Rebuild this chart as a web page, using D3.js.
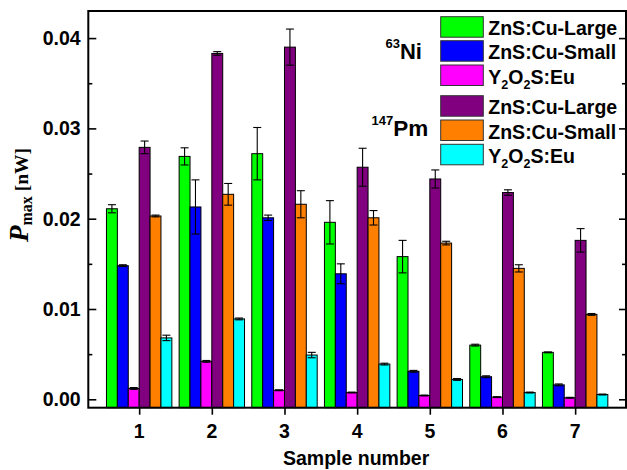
<!DOCTYPE html>
<html>
<head>
<meta charset="utf-8">
<script src="https://cdn.jsdelivr.net/npm/d3@7"></script>
<style>
  html, body { margin: 0; padding: 0; background: #fff; }
  svg { display: block; }
  text { font-family: "Liberation Sans", Arial, sans-serif; font-weight: bold; fill: #000; }
</style>
</head>
<body>
<svg id="chart" width="627" height="470"></svg>
<script>
// Sample numbers on the x axis
const samples = [1, 2, 3, 4, 5, 6, 7];

// Maximum power [nW] per sample, 63Ni source
const niLarge    = [0.0211, 0.0269, 0.0272, 0.0196, 0.0158, 0.0060, 0.0052];
const niLargeErr = [0.00045, 0.00095, 0.0029, 0.0024, 0.0018, 0.0001, 0.00005];
const niSmall    = [0.0148, 0.0213, 0.0201, 0.0139, 0.0031, 0.0025, 0.0016];
const niSmallErr = [0.0001, 0.0030, 0.0003, 0.0011, 0.0001, 0.0001, 0.0001];
const niY2O2S    = [0.0012, 0.0042, 0.0010, 0.00075, 0.00042, 0.00024, 0.00017];
const niY2O2SErr = [0.0001, 0.0001, 0.00005, 0.00005, 0.00005, 0.00005, 0.00005];

// Maximum power [nW] per sample, 147Pm source
const pmLarge    = [0.0279, 0.0383, 0.0390, 0.0257, 0.0244, 0.0229, 0.0176];
const pmLargeErr = [0.0007, 0.0002, 0.0020, 0.0021, 0.0010, 0.0003, 0.0013];
const pmSmall    = [0.0203, 0.0227, 0.0216, 0.0201, 0.0173, 0.0145, 0.0094];
const pmSmallErr = [0.0001, 0.0012, 0.0015, 0.0008, 0.0002, 0.0004, 0.0001];
const pmY2O2S    = [0.0068, 0.0089, 0.0049, 0.0039, 0.0022, 0.00075, 0.00053];
const pmY2O2SErr = [0.0003, 0.0001, 0.0003, 0.0001, 0.0001, 0.00005, 0.00005];

// Tick values
const yMajorTicks = [0, 0.01, 0.02, 0.03, 0.04];
const yMinorTicks = [0.005, 0.015, 0.025, 0.035];
const yTickLabels = ["0.00", "0.01", "0.02", "0.03", "0.04"];

// Series: phosphor label parts (text, subscript flag) and fill colour
const series = [
  { values: niLarge, errors: niLargeErr, color: "#00ff00", label: [["ZnS:Cu-Large", false]] },
  { values: niSmall, errors: niSmallErr, color: "#0000ff", label: [["ZnS:Cu-Small", false]] },
  { values: niY2O2S, errors: niY2O2SErr, color: "#ff00ff", label: [["Y", false], ["2", true], ["O", false], ["2", true], ["S:Eu", false]] },
  { values: pmLarge, errors: pmLargeErr, color: "#800080", label: [["ZnS:Cu-Large", false]] },
  { values: pmSmall, errors: pmSmallErr, color: "#ff8000", label: [["ZnS:Cu-Small", false]] },
  { values: pmY2O2S, errors: pmY2O2SErr, color: "#00ffff", label: [["Y", false], ["2", true], ["O", false], ["2", true], ["S:Eu", false]] }
];

const svg = d3.select("#chart");
const L = 88.3, R = 626, T = 11, B = 407.7;

const x = d3.scaleLinear().domain([0.3, 7.7]).range([L, R]);
const y = d3.scaleLinear().domain([-0.00093, 0.043]).range([B, T]);

const barW = 0.15;
const barPx = x(barW) - x(0);

// Bars
series.forEach((s, k) => {
  const g = svg.append("g");
  g.selectAll("rect").data(samples).join("rect")
    .attr("x", (d) => x(d + (k - 3) * barW))
    .attr("y", (d, i) => y(s.values[i]))
    .attr("width", barPx)
    .attr("height", (d, i) => B - y(s.values[i]))
    .attr("fill", s.color)
    .attr("stroke", "#000")
    .attr("stroke-width", 1);
});

// Error bars
series.forEach((s, k) => {
  const g = svg.append("g").attr("stroke", "#000").attr("stroke-width", 1.1);
  samples.forEach((d, i) => {
    const cx = x(d + (k - 2.5) * barW);
    const top = y(s.values[i] + s.errors[i]);
    const bot = y(s.values[i] - s.errors[i]);
    g.append("line").attr("x1", cx).attr("x2", cx).attr("y1", top).attr("y2", bot);
    g.append("line").attr("x1", cx - 4).attr("x2", cx + 4).attr("y1", top).attr("y2", top);
    g.append("line").attr("x1", cx - 4).attr("x2", cx + 4).attr("y1", bot).attr("y2", bot);
  });
});

// Left axis (ticks pointing inward)
const yAxisL = svg.append("g").attr("transform", `translate(${L},0)`)
  .call(d3.axisRight(y).tickValues(yMajorTicks).tickSize(8).tickFormat(""));
const yAxisLMinor = svg.append("g").attr("transform", `translate(${L},0)`)
  .call(d3.axisRight(y).tickValues(yMinorTicks).tickSize(4).tickFormat(""));
// Right axis (ticks pointing inward)
const yAxisR = svg.append("g").attr("transform", `translate(${R},0)`)
  .call(d3.axisLeft(y).tickValues(yMajorTicks).tickSize(7).tickFormat(""));
const yAxisRMinor = svg.append("g").attr("transform", `translate(${R},0)`)
  .call(d3.axisLeft(y).tickValues(yMinorTicks).tickSize(4).tickFormat(""));
// Bottom axis (ticks pointing outward)
const xAxis = svg.append("g").attr("transform", `translate(0,${B})`)
  .call(d3.axisBottom(x).tickValues(samples).tickSize(7).tickFormat(""));

[yAxisL, yAxisLMinor, yAxisR, yAxisRMinor, xAxis].forEach((a) => {
  a.select(".domain").remove();
  a.selectAll(".tick line").attr("stroke", "#000").attr("stroke-width", 1.6);
});

// Y tick labels
svg.append("g").selectAll("text").data(yMajorTicks).join("text")
  .attr("x", 80.7)
  .attr("y", (d) => y(d) + 7)
  .attr("text-anchor", "end")
  .attr("font-size", 19.5)
  .text((d, i) => yTickLabels[i]);

// X tick labels
svg.append("g").selectAll("text").data(samples).join("text")
  .attr("x", (d) => x(d))
  .attr("y", 438)
  .attr("text-anchor", "middle")
  .attr("font-size", 19.5)
  .text((d) => d);

// Frame
svg.append("rect")
  .attr("x", L).attr("y", T).attr("width", R - L).attr("height", B - T)
  .attr("fill", "none").attr("stroke", "#000").attr("stroke-width", 2);

// Axis titles
svg.append("text")
  .attr("x", (L + R) / 2 - 1)
  .attr("y", 465)
  .attr("text-anchor", "middle")
  .attr("font-size", 19.5)
  .text("Sample number");

const yTitle = svg.append("text")
  .attr("transform", "translate(28,195) rotate(-90)")
  .attr("text-anchor", "middle")
  .style("font-family", "'Liberation Serif', 'Times New Roman', serif");
yTitle.append("tspan").attr("font-size", 27).attr("font-style", "italic").text("P");
yTitle.append("tspan").attr("font-size", 16).attr("dy", 4).text("max");
yTitle.append("tspan").attr("font-size", 19.5).attr("dy", -4).text(" [nW]");

// Legend
const rowTops = [16.7, 40.7, 65, 95.7, 120, 144.3];
const legend = svg.append("g");
series.forEach((s, k) => {
  legend.append("rect")
    .attr("x", 440.7).attr("y", rowTops[k])
    .attr("width", 42.6).attr("height", 20.5)
    .attr("fill", s.color).attr("stroke", "#333").attr("stroke-width", 1);
  const t = legend.append("text")
    .attr("x", 488.3).attr("y", rowTops[k] + 18.6)
    .attr("font-size", 19.5);
  let shifted = false;
  s.label.forEach(([str, sub]) => {
    const ts = t.append("tspan").text(str);
    if (sub && !shifted) { ts.attr("font-size", 12.5).attr("dy", 5); shifted = true; }
    else if (!sub && shifted) { ts.attr("dy", -5); shifted = false; }
  });
});

// Source labels
const ni = svg.append("text").attr("x", 385.5).attr("y", 59.3).attr("font-size", 22);
ni.append("tspan").attr("font-size", 13).attr("dy", -11.5).text("63");
ni.append("tspan").attr("dy", 11.5).text("Ni");

const pm = svg.append("text").attr("x", 371.5).attr("y", 136).attr("font-size", 22.5);
pm.append("tspan").attr("font-size", 13).attr("dy", -11.5).text("147");
pm.append("tspan").attr("dy", 11.5).text("Pm");
</script>
</body>
</html>
